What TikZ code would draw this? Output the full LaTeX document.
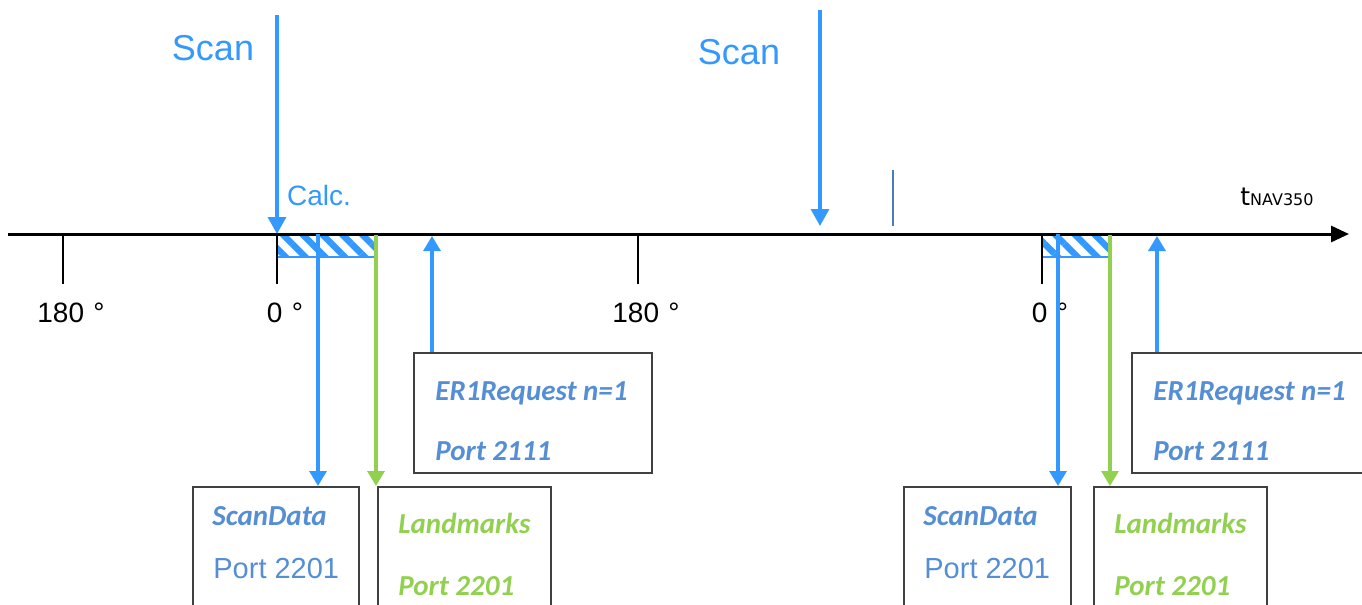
\documentclass[tikz,border=0pt]{standalone}
\usepackage{fontspec}
\setmainfont{Liberation Sans}
\newfontfamily\calfont{Carlito}
\newfontfamily\axfont{DejaVu Sans}
\usepackage{xcolor}
\usetikzlibrary{arrows.meta, patterns.meta, positioning}

\definecolor{scanblue}{HTML}{3399FF}
\definecolor{msgblue}{HTML}{558ED5}
\definecolor{lmgreen}{HTML}{92D050}
\definecolor{boxgray}{HTML}{404040}
\definecolor{markblue}{HTML}{4A7EBB}

\begin{document}
\begin{tikzpicture}[x=0.5pt, y=-0.5pt,
		timeaxis/.style={line width=1.5pt, -{Triangle[length=9pt, width=8pt]}},
		tick/.style={line width=1pt},
		scanarrow/.style={scanblue, line width=1.6pt, -{Triangle[length=8.5pt, width=9pt]}},
		msgarrow/.style={line width=1.6pt, -{Triangle[length=7.5pt, width=8.5pt]}},
		calcbox/.style={draw=scanblue, line width=1pt, inner sep=0pt, outer sep=0pt, anchor=north west,
			pattern={Lines[angle=-45, distance=7pt, line width=3.2pt]}, pattern color=scanblue},
		msgbox/.style={draw=boxgray, line width=0.9pt, inner sep=0pt, anchor=north west},
		deg/.style={font=\fontsize{14}{16}\selectfont},
		msgtext/.style={anchor=base west, inner sep=0pt, font=\calfont\bfseries\itshape\fontsize{14.5}{16}\selectfont}]

	\useasboundingbox (0,0) rectangle (1362,605);
	\clip (0,0) rectangle (1362,605);

	% calculation windows after each 0 deg pass
	\node (calc1) [calcbox, minimum width=49.5pt, minimum height=11pt] at (277,235) {};
	\node (calc2) [calcbox, minimum width=34pt, minimum height=11pt] at (1042,235) {};

	% time axis
	\coordinate (axisL) at (8,234);
	\coordinate (axisR) at (1349,234);
	\draw[timeaxis] (axisL) -- (axisR);
	\node (tlabel) [anchor=base west, inner sep=0pt, font=\axfont\fontsize{12.5}{14}\selectfont]
		at (1240,205) {t{\fontsize{8}{9}\selectfont NAV350}};

	% angle marks
	\foreach \name/\xx/\txt in {a/63/180\,\,°, b/277/0\,\,°, c/638/180\,\,°, d/1042/0\,\,°} {
			\coordinate (tick\name) at (\xx,234);
			\node (deg\name) [deg] at (\xx+8,313) {\txt};
			\draw[tick] (tick\name) -- ++(0,50);
		}

	% scans
	\coordinate (scan1) at (277,15);
	\coordinate (scan2) at (820,10);
	\coordinate (hit2) at (820,226);
	\draw[scanarrow] (scan1) -- (tickb);
	\draw[scanarrow] (scan2) -- (hit2);
	\node (scantxt1) [scanblue, font=\fontsize{18}{20}\selectfont] at (213,48) {Scan};
	\node (scantxt2) [scanblue, font=\fontsize{18}{20}\selectfont] at (739,52) {Scan};
	\node (calctxt) [scanblue, font=\fontsize{14}{16}\selectfont] at (319,195) {Calc.};

	\coordinate (markT) at (893,170);
	\coordinate (markB) at (893,226);
	\draw[markblue, line width=1pt] (markT) -- (markB);

	% output telegrams
	\node (sd1) [msgbox, minimum width=83pt, minimum height=70pt] at (192,486) {};
	\node (lm1) [msgbox, minimum width=86.5pt, minimum height=70pt] at (377,486) {};
	\node (sd2) [msgbox, minimum width=83.5pt, minimum height=70pt] at (903,486) {};
	\node (lm2) [msgbox, minimum width=86.5pt, minimum height=70pt] at (1093,486) {};

	% requests
	\node (er1) [msgbox, minimum width=119pt, minimum height=60pt] at (413,352) {};
	\node (er2) [msgbox, minimum width=119pt, minimum height=60pt] at (1131,352) {};

	\coordinate (out1) at (318,234);
	\coordinate (out2) at (1058,234);
	\coordinate (req1) at (432,236);
	\coordinate (req2) at (1157,236);

	\draw[msgarrow, scanblue] (out1) -- (out1 |- sd1.north);
	\draw[msgarrow, scanblue] (out2) -- (out2 |- sd2.north);
	\draw[msgarrow, lmgreen] (calc1.north east) -- (calc1.north east |- lm1.north);
	\draw[msgarrow, lmgreen] (calc2.north east) -- (calc2.north east |- lm2.north);
	\draw[msgarrow, scanblue] (req1 |- er1.north) -- (req1);
	\draw[msgarrow, scanblue] (req2 |- er2.north) -- (req2);

	% texts in the boxes
	\node (er1a) [msgtext, msgblue] at (435,400) {ER1Request n=1};
	\node (er1b) [msgtext, msgblue] at (435,460) {Port 2111};
	\node (er2a) [msgtext, msgblue] at (1153,400) {ER1Request n=1};
	\node (er2b) [msgtext, msgblue] at (1153,460) {Port 2111};

	\node (sd1a) [msgtext, msgblue] at (212,525) {ScanData};
	\node (sd1b) [anchor=base west, inner sep=0pt, msgblue, font=\fontsize{14.5}{16}\selectfont] at (213,578) {Port 2201};
	\node (sd2a) [msgtext, msgblue] at (923,525) {ScanData};
	\node (sd2b) [anchor=base west, inner sep=0pt, msgblue, font=\fontsize{14.5}{16}\selectfont] at (924,578) {Port 2201};

	\node (lm1a) [msgtext, lmgreen] at (398,533) {Landmarks};
	\node (lm1b) [msgtext, lmgreen] at (398,595) {Port 2201};
	\node (lm2a) [msgtext, lmgreen] at (1114,533) {Landmarks};
	\node (lm2b) [msgtext, lmgreen] at (1114,595) {Port 2201};
\end{tikzpicture}
\end{document}
